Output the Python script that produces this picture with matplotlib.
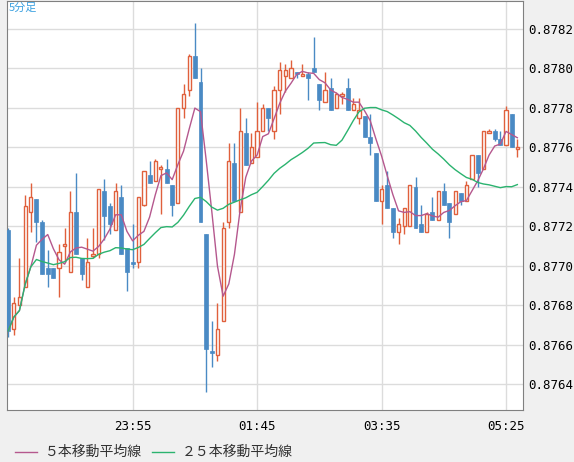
import numpy as np
import pandas as pd
import matplotlib
matplotlib.use('Agg')
import matplotlib.pyplot as plt
from matplotlib.patches import Rectangle

plt.rcParams['font.family'] = ['Noto Sans CJK JP', 'DejaVu Sans']

# 5-minute candles, 22:05 .. 05:35
opens = [0.87718, 0.87668, 0.8768, 0.87689, 0.87727, 0.87734, 0.87722, 0.87699, 0.87699, 0.87699,
         0.8771, 0.87697, 0.87727, 0.87704, 0.87689, 0.87705, 0.87706, 0.87738, 0.8773, 0.87718,
         0.87735, 0.87709, 0.87702, 0.87702, 0.87731, 0.87746, 0.87743, 0.87749, 0.87749, 0.87741,
         0.87732, 0.8778, 0.87789, 0.87806, 0.87793, 0.87716, 0.87657, 0.87655, 0.87672, 0.87722,
         0.87752, 0.87727, 0.87767, 0.87752, 0.87755, 0.87768, 0.8778, 0.87768, 0.87789, 0.87796,
         0.87795, 0.87798, 0.87796, 0.87797, 0.878, 0.87792, 0.87783, 0.8779, 0.8778, 0.87786,
         0.8779, 0.87779, 0.87775, 0.87776, 0.87765, 0.87757, 0.87733, 0.87741, 0.87729, 0.87717,
         0.8772, 0.8772, 0.8774, 0.87721, 0.87717, 0.87727, 0.87723, 0.87738, 0.87732, 0.87726,
         0.87737, 0.87733, 0.87744, 0.87756, 0.87749, 0.87767, 0.87768, 0.87764, 0.87761, 0.87777,
         0.87759]
highs = [0.87719, 0.87684, 0.87704, 0.87736, 0.87742, 0.87734, 0.87723, 0.87708, 0.87699, 0.87711,
         0.87719, 0.87738, 0.87747, 0.87704, 0.87714, 0.87719, 0.87739, 0.87744, 0.87732, 0.87742,
         0.87741, 0.87709, 0.87721, 0.87735, 0.87748, 0.87753, 0.87754, 0.87751, 0.87754, 0.87741,
         0.8778, 0.87792, 0.87807, 0.87823, 0.878, 0.87716, 0.87672, 0.87681, 0.87722, 0.87762,
         0.87762, 0.8778, 0.87775, 0.87767, 0.87783, 0.87782, 0.8778, 0.87791, 0.87803, 0.87802,
         0.87804, 0.87798, 0.87802, 0.87798, 0.87816, 0.87792, 0.87798, 0.87795, 0.87788, 0.87788,
         0.87795, 0.87785, 0.87785, 0.87776, 0.87777, 0.87757, 0.87741, 0.87748, 0.87729, 0.87724,
         0.87729, 0.87741, 0.87745, 0.87731, 0.87727, 0.87735, 0.87738, 0.87742, 0.87732, 0.87738,
         0.87737, 0.87743, 0.87756, 0.87756, 0.87768, 0.87769, 0.87769, 0.87768, 0.87781, 0.87777,
         0.87764]
lows = [0.87664, 0.87665, 0.8768, 0.87689, 0.87717, 0.87712, 0.87696, 0.87689, 0.87694, 0.87684,
        0.87702, 0.87697, 0.87706, 0.87693, 0.87689, 0.87704, 0.87704, 0.87713, 0.87716, 0.87718,
        0.87706, 0.87687, 0.87699, 0.87699, 0.8773, 0.87742, 0.87743, 0.87726, 0.87742, 0.87725,
        0.87732, 0.87775, 0.87786, 0.87795, 0.87722, 0.87636, 0.87649, 0.87652, 0.87672, 0.87719,
        0.87733, 0.87727, 0.87751, 0.87752, 0.87755, 0.87768, 0.87768, 0.87764, 0.87777, 0.87788,
        0.87795, 0.87795, 0.87796, 0.87784, 0.87798, 0.87779, 0.87783, 0.87779, 0.8778, 0.87782,
        0.87779, 0.87779, 0.87772, 0.87765, 0.87756, 0.87733, 0.87721, 0.87729, 0.87714, 0.87711,
        0.87716, 0.8772, 0.87719, 0.87717, 0.87717, 0.87723, 0.87723, 0.87731, 0.87714, 0.87726,
        0.87731, 0.87733, 0.87744, 0.8774, 0.87749, 0.87767, 0.87763, 0.87761, 0.87761, 0.8776,
        0.87755]
closes = [0.87667, 0.87681, 0.87684, 0.8773, 0.87735, 0.87722, 0.87696, 0.87696, 0.87694, 0.87707,
          0.87711, 0.87727, 0.87706, 0.87696, 0.87702, 0.87706, 0.87739, 0.87725, 0.87721, 0.87738,
          0.87706, 0.87697, 0.87701, 0.87735, 0.87748, 0.87742, 0.87753, 0.8775, 0.87742, 0.87731,
          0.8778, 0.87787, 0.87806, 0.87795, 0.87722, 0.87658, 0.87656, 0.87668, 0.87719, 0.87753,
          0.87733, 0.87768, 0.87751, 0.8776, 0.87768, 0.8778, 0.87775, 0.87789, 0.87799, 0.87799,
          0.878, 0.87797, 0.87797, 0.87795, 0.87798, 0.87784, 0.87789, 0.87779, 0.87787, 0.87787,
          0.87779, 0.87782, 0.87779, 0.87765, 0.87762, 0.87733, 0.87739, 0.87729, 0.87717, 0.87721,
          0.87729, 0.87741, 0.87719, 0.87717, 0.87726, 0.87723, 0.87738, 0.87731, 0.87722, 0.87738,
          0.87733, 0.87741, 0.87756, 0.87747, 0.87768, 0.87768, 0.87764, 0.87761, 0.87779, 0.8776,
          0.8776]

time_ticks = [22, 44, 66, 88]
time_labels = ['23:55', '01:45', '03:35', '05:25']
price_ticks = [0.8764, 0.8766, 0.8768, 0.8770, 0.8772, 0.8774, 0.8776, 0.8778, 0.8780, 0.8782]

up_col = '#e0603c'
dn_col = '#4a8ac4'
ma5_col = '#b5588e'
ma25_col = '#2bb36f'

s = pd.Series(closes)
ma5 = s.rolling(5, min_periods=1).mean()
ma25 = s.rolling(25, min_periods=1).mean()

fig = plt.figure(figsize=(5.74, 4.62), dpi=100, facecolor='#f0f0f0')
ax = fig.add_axes([7 / 574, 52 / 462, 516 / 574, 409 / 462])
ax.set_facecolor('white')

for i in range(len(closes)):
    o, h, l, c = opens[i], highs[i], lows[i], closes[i]
    if c >= o:
        ax.vlines(i, l, h, color=up_col, linewidth=1, zorder=2)
        ax.add_patch(Rectangle((i - 0.28, o), 0.56, max(c - o, 0.000004),
                               facecolor='white', edgecolor=up_col, linewidth=1, zorder=3))
    else:
        ax.vlines(i, l, h, color=dn_col, linewidth=1, zorder=2)
        ax.add_patch(Rectangle((i - 0.35, c), 0.7, max(o - c, 0.000004),
                               facecolor=dn_col, edgecolor=dn_col, linewidth=0.5, zorder=3))

x = np.arange(len(closes))
ax.plot(x, ma5, color=ma5_col, linewidth=1, zorder=4)
ax.plot(x, ma25, color=ma25_col, linewidth=1, zorder=4)

ax.set_xlim(-0.2, 91.0)
ax.set_ylim(0.87627, 0.87834)
ax.set_xticks(time_ticks)
ax.set_xticklabels(time_labels)
ax.set_yticks(price_ticks)
ax.set_yticklabels([f'{p:.4f}' for p in price_ticks])
ax.yaxis.tick_right()
ax.tick_params(length=0, labelsize=9, pad=4)
ax.tick_params(axis='x', pad=7)
for lab in ax.get_xticklabels() + ax.get_yticklabels():
    lab.set_family('DejaVu Sans Mono')
ax.grid(True, color='#dcdcdc', linewidth=1, zorder=0)
ax.set_axisbelow(True)
for sp in ax.spines.values():
    sp.set_color('#808080')

ax.text(0.004, 0.995, '5分足', transform=ax.transAxes, ha='left', va='top',
        color='#3aa0e0', fontsize=8)

# legend in bottom strip
fig.lines.append(plt.Line2D([15 / 574, 37 / 574], [10 / 462, 10 / 462], color=ma5_col, linewidth=1,
                            transform=fig.transFigure))
fig.text(45 / 574, 10 / 462, '５本移動平均線', fontsize=10, va='center', color='#333333')
fig.lines.append(plt.Line2D([152 / 574, 174 / 574], [10 / 462, 10 / 462], color=ma25_col, linewidth=1,
                            transform=fig.transFigure))
fig.text(182 / 574, 10 / 462, '２５本移動平均線', fontsize=10, va='center', color='#333333')

fig.savefig('out.png', dpi=100, facecolor=fig.get_facecolor())
